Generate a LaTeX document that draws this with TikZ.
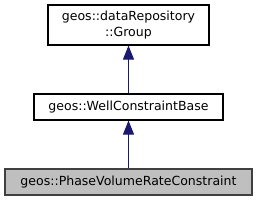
\documentclass[tikz,border=0pt]{standalone}
\usepackage{fontspec}
\setmainfont{DejaVu Sans}
\usepackage{tikz}
\usetikzlibrary{arrows.meta,positioning}
\definecolor{navyedge}{RGB}{25,25,112}
\definecolor{boxgray}{RGB}{191,191,191}
\definecolor{darkline}{RGB}{64,64,64}

\begin{document}
\begin{tikzpicture}[x=0.75pt, y=-0.75pt,
    classbox/.style={draw=black, thick, fill=white, align=center, inner sep=0pt, font=\fontsize{9.4pt}{12pt}\selectfont},
    activebox/.style={classbox, draw=darkline, fill=boxgray},
    inherit/.style={{Triangle[length=3.7mm, width=2.9mm]}-, thick, navyedge}
]
\useasboundingbox (0,0) rectangle (257,201);

\node[classbox, minimum width=161*0.75pt, minimum height=40*0.75pt] (group) at (128.5,25) {geos::dataRepository\\::Group};
\node[classbox, minimum width=189*0.75pt, minimum height=26*0.75pt] (wellbase) at (128.5,107) {geos::WellConstraintBase};
\node[activebox, minimum width=247*0.75pt, minimum height=26*0.75pt] (phaserate) at (128.5,182) {geos::PhaseVolumeRateConstraint};

\draw[inherit] (group) -- (wellbase);
\draw[inherit] (wellbase) -- (phaserate);
\end{tikzpicture}
\end{document}
